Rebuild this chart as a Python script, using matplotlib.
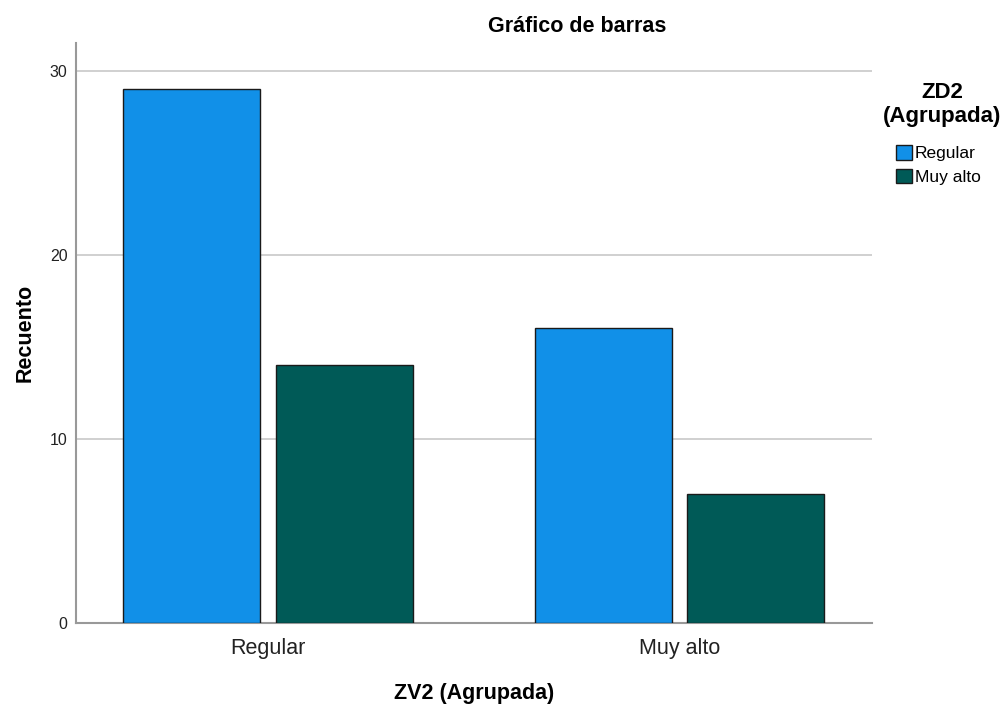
import numpy as np
import matplotlib
matplotlib.use('Agg')
import matplotlib.pyplot as plt

# chart data
groups = ['Regular', 'Muy alto']
series = ['Regular', 'Muy alto']
countsRegular = [29, 14]
countsMuyAlto = [16, 7]
colors = ['#1190E8', '#005A57']

plt.rcParams['font.family'] = ['Liberation Sans', 'DejaVu Sans']

fig = plt.figure(figsize=(10.03, 7.07), dpi=100)
ax = fig.add_axes([0.0758, 0.119, 0.794, 0.820])

x = np.arange(len(groups))
width = 0.333
offset = 0.185
for i, vals in enumerate([countsRegular, countsMuyAlto]):
    ax.bar(x[i] - offset, vals[0], width, color=colors[0], edgecolor='#1a1a1a', linewidth=1, zorder=3, label=series[0] if i == 0 else None)
    ax.bar(x[i] + offset, vals[1], width, color=colors[1], edgecolor='#1a1a1a', linewidth=1, zorder=3, label=series[1] if i == 0 else None)

ax.set_xlim(-0.466, 1.468)
ax.set_ylim(0, 31.5)
ax.set_yticks([0, 10, 20, 30])
ax.set_xticks(x)
ax.set_xticklabels(groups, fontsize=15.5, color='#222222')
ax.tick_params(axis='y', length=0, labelsize=11.5, pad=6, colors='#222222')
ax.tick_params(axis='x', length=0, pad=11)
ax.yaxis.grid(True, color='#c8c8c8', linewidth=1.2, zorder=0)
ax.set_axisbelow(True)
for s in ['top', 'right']:
    ax.spines[s].set_visible(False)
ax.spines['left'].set_color('#999999')
ax.spines['bottom'].set_color('#999999')
ax.spines['left'].set_linewidth(1.5)
ax.spines['bottom'].set_linewidth(1.5)

# title and axis labels
fig.text(0.575, 0.962, 'Gráfico de barras', fontsize=15.5, fontweight='bold', ha='center', va='center')
ax.set_xlabel('ZV2 (Agrupada)', fontsize=15.5, fontweight='bold', labelpad=17)
ax.set_ylabel('Recuento', fontsize=15.5, fontweight='bold', labelpad=10)

# legend
fig.text(0.939, 0.852, 'ZD2\n(Agrupada)', fontsize=16, fontweight='bold', ha='center', va='center',
         linespacing=1.2)
leg = fig.legend(loc='upper left', bbox_to_anchor=(0.893, 0.795), frameon=False,
                 fontsize=12.5, handlelength=0.92, handleheight=0.92,
                 handletextpad=0.2, labelspacing=0.42, borderaxespad=0, borderpad=0)

plt.savefig('out.png', dpi=100)
